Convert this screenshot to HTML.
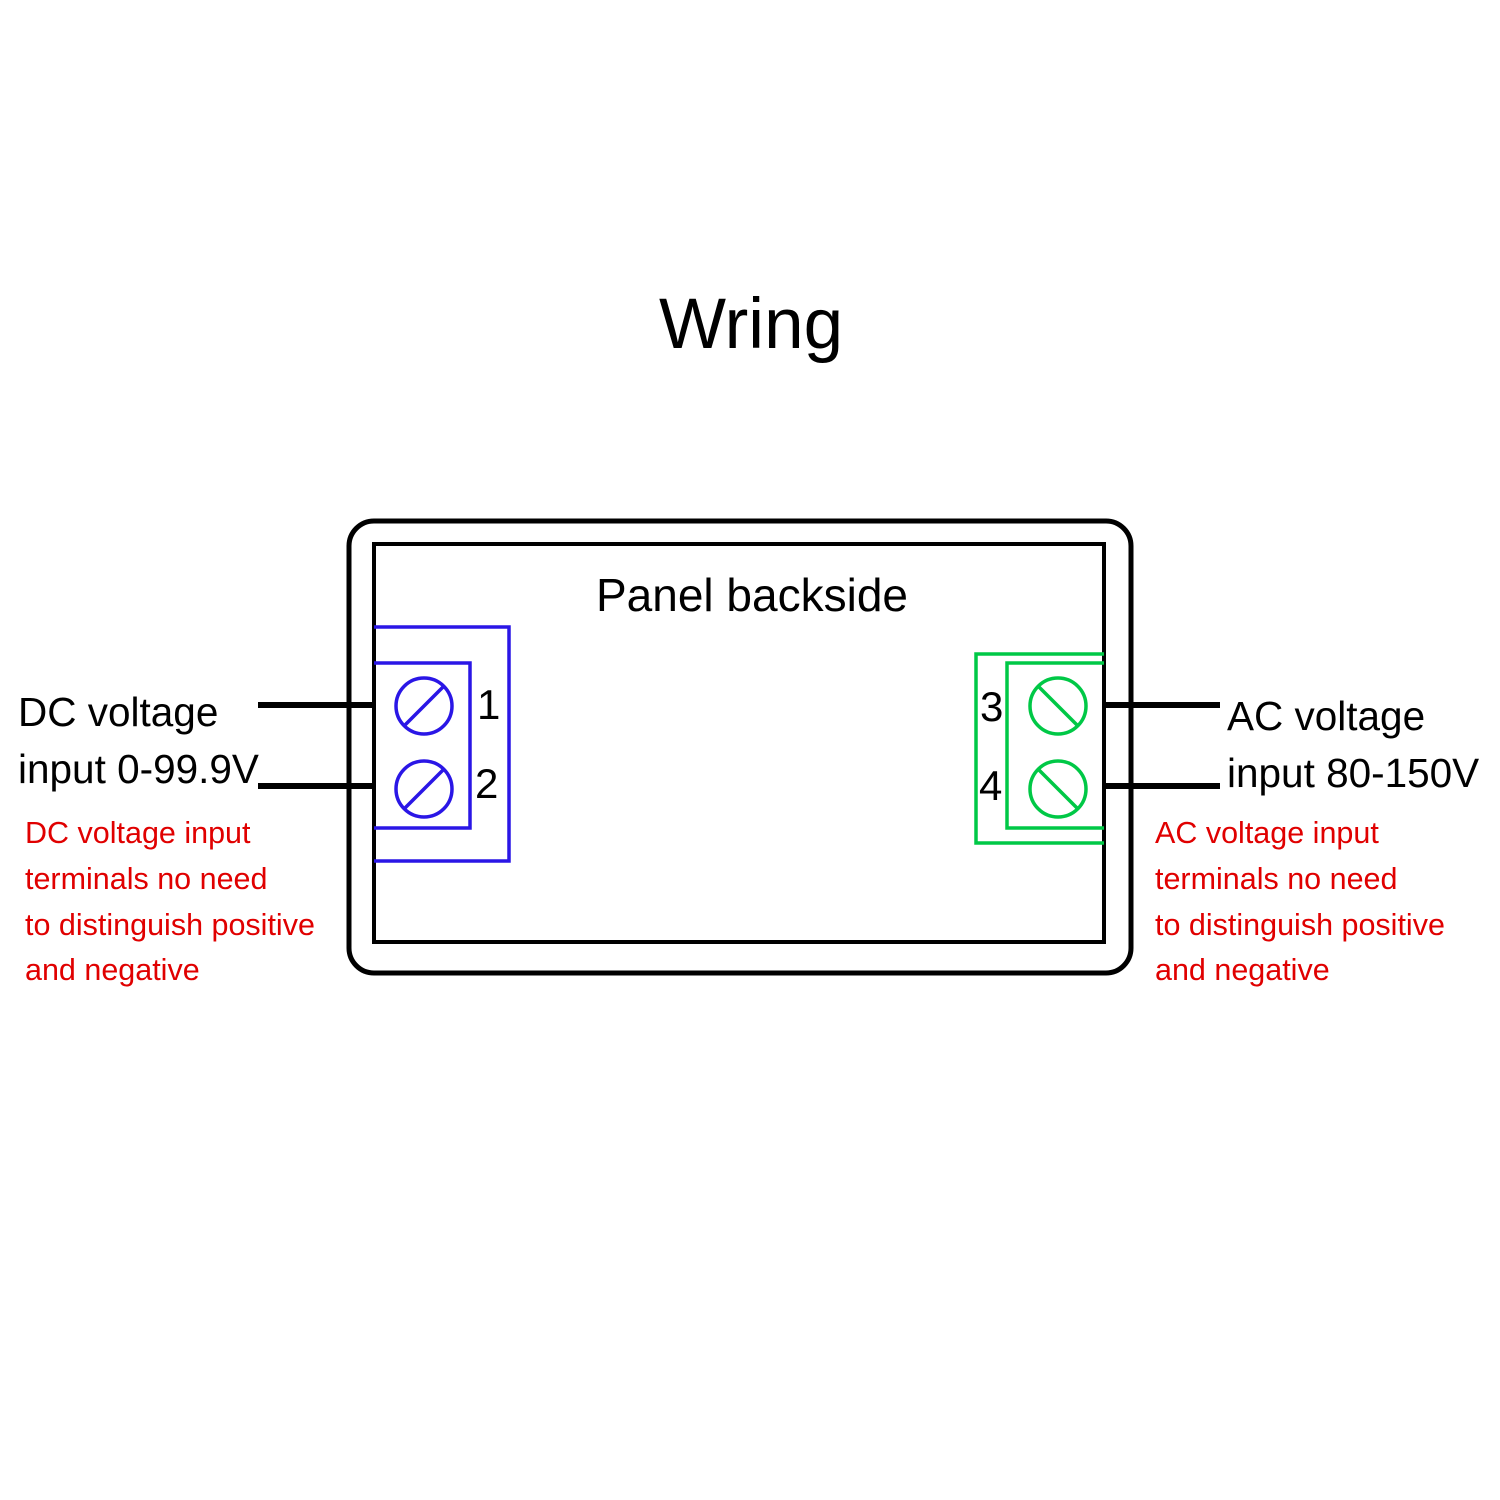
<!DOCTYPE html>
<html><head><style>body{margin:0;background:#fff}</style></head><body>
<svg width="1500" height="1500" xmlns="http://www.w3.org/2000/svg" style="display:block">
<rect width="1500" height="1500" fill="#fff"/>
<g font-family="Liberation Sans, Arial, sans-serif">
<text x="751" y="348" font-size="71" text-anchor="middle">Wring</text>
<rect x="349" y="521" width="782" height="452" rx="25" fill="none" stroke="#000" stroke-width="5"/>
<rect x="374" y="544" width="730" height="398" fill="none" stroke="#000" stroke-width="4"/>
<text x="752" y="611" font-size="46" text-anchor="middle">Panel backside</text>
<g stroke="#000" stroke-width="6">
<line x1="258" y1="705" x2="374" y2="705"/><line x1="258" y1="786" x2="374" y2="786"/>
<line x1="1104" y1="705" x2="1220" y2="705"/><line x1="1104" y1="786" x2="1220" y2="786"/>
</g>
<g fill="none" stroke="#2a16e6" stroke-width="3.5">
<polyline points="374,627 509,627 509,861 374,861"/>
<polyline points="374,663 470,663 470,828 374,828"/>
<circle cx="424" cy="706" r="28"/><circle cx="424" cy="789" r="28"/>
<line x1="405" y1="725" x2="443" y2="687"/><line x1="405" y1="808" x2="443" y2="770"/>
</g>
<g fill="none" stroke="#00c846" stroke-width="3.5">
<polyline points="1104,654 976,654 976,843 1104,843"/>
<polyline points="1104,663 1007,663 1007,828 1104,828"/>
<circle cx="1058" cy="706" r="28"/><circle cx="1058" cy="789" r="28"/>
<line x1="1039" y1="687" x2="1077" y2="725"/><line x1="1039" y1="770" x2="1077" y2="808"/>
</g>
<g font-size="42">
<text x="477" y="719">1</text><text x="475" y="798">2</text>
<text x="980" y="721">3</text><text x="979" y="800">4</text>
</g>
<g font-size="40.5">
<text x="18" y="726">DC voltage</text><text x="18" y="783">input 0-99.9V</text>
<text x="1227" y="730">AC voltage</text><text x="1227" y="787">input 80-150V</text>
</g>
<g font-size="30.5" fill="#e00000">
<text x="25" y="843">DC voltage input</text><text x="25" y="889">terminals no need</text>
<text x="25" y="935">to distinguish positive</text><text x="25" y="980">and negative</text>
<text x="1155" y="843">AC voltage input</text><text x="1155" y="889">terminals no need</text>
<text x="1155" y="935">to distinguish positive</text><text x="1155" y="980">and negative</text>
</g>
</g>
</svg>
</body></html>
